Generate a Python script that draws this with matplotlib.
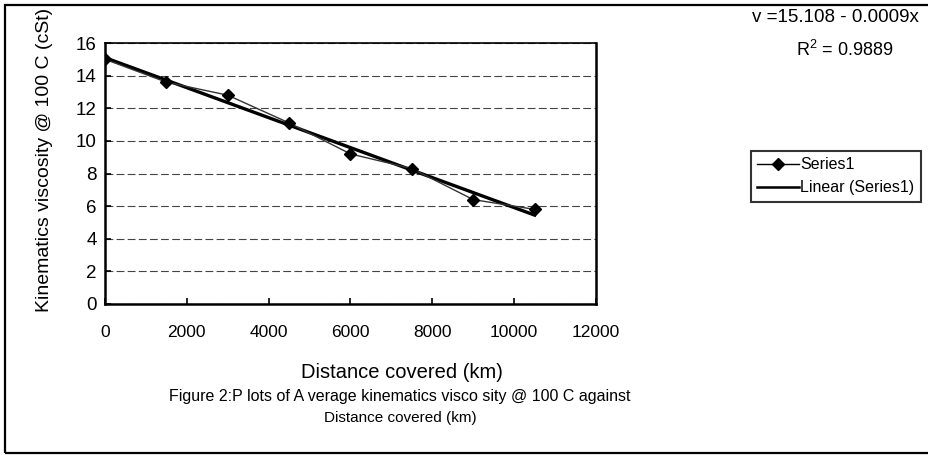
import numpy as np
import matplotlib
matplotlib.use('Agg')
import matplotlib.pyplot as plt
from matplotlib.patches import Rectangle
from matplotlib.lines import Line2D

#Data
distanceKm = [0, 1500, 3000, 4500, 6000, 7500, 9000, 10500]
viscosity = [15.0, 13.6, 12.8, 11.1, 9.2, 8.3, 6.4, 5.8]
xTicks = [0, 2000, 4000, 6000, 8000, 10000, 12000]
yTicks = [0, 2, 4, 6, 8, 10, 12, 14, 16]
equationText = 'v =15.108 - 0.0009x'
rSquaredText = 'R$^2$ = 0.9889'

plt.rcParams['font.family'] = ['Liberation Sans', 'DejaVu Sans']
plt.rcParams['mathtext.fontset'] = 'custom'
plt.rcParams['mathtext.rm'] = 'Liberation Sans'

fig = plt.figure(figsize=(9.29, 4.58), dpi=100)
ax = fig.add_axes([105/929, 1-304/458, 491/929, 261/458])

#Linear trendline fitted from the points
slope, intercept = np.polyfit(distanceKm, viscosity, 1)
trendX = np.array([distanceKm[0], distanceKm[-1]])
ax.plot(trendX, intercept + slope*trendX, color='black', lw=2.4, zorder=3)

#Series with diamond markers
ax.plot(distanceKm, viscosity, color='#333333', lw=1.0, marker='D',
        markersize=6, markerfacecolor='black', markeredgecolor='black', zorder=4)

#Axes limits, ticks and gridlines
ax.set_xlim(0, 12000)
ax.set_ylim(0, 16)
ax.set_xticks(xTicks)
ax.set_yticks(yTicks)
ax.set_xticklabels([str(t) for t in xTicks], fontsize=12.5)
ax.set_yticklabels([str(t) for t in yTicks], fontsize=13.5)
ax.tick_params(axis='both', direction='in', length=4, width=1.2)
ax.tick_params(axis='x', pad=15)
ax.tick_params(axis='y', pad=6)
ax.yaxis.grid(True, linestyle=(0, (7, 3)), color='#444444', lw=0.8)
ax.set_axisbelow(True)
for side in ['left', 'bottom', 'right']:
    ax.spines[side].set_linewidth(1.8)
ax.spines['top'].set_linewidth(1.2)

#Axis labels
fig.text(45/929, 1-160/458, 'Kinematics viscosity @ 100 C (cSt)', fontsize=14,
         rotation=90, ha='center', va='center')
fig.text(402/929, 1-372/458, 'Distance covered (km)', fontsize=14.5,
         ha='center', va='center')

#Caption under the chart
fig.text(400/929, 1-396/458,
         'Figure 2:P lots of A verage kinematics visco sity @ 100 C against',
         fontsize=11.5, ha='center', va='center')
fig.text(400/929, 1-418/458, 'Distance covered (km)', fontsize=11,
         ha='center', va='center')

#Trendline equation
fig.text(752/929, 1-18/458, equationText, fontsize=13.5, ha='left', va='center')
fig.text(845/929, 1-50/458, rSquaredText, fontsize=13, ha='center', va='center')

#Legend box
legendHandles = [
    Line2D([], [], color='black', lw=1.0, marker='D', markersize=6),
    Line2D([], [], color='black', lw=1.8),
]
leg = fig.legend(legendHandles, ['Series1', 'Linear (Series1)'],
                 loc='upper left', bbox_to_anchor=(743/929, 1-143/458),
                 frameon=True, fancybox=False, handlelength=2.6,
                 handletextpad=0.1, borderpad=0.4, labelspacing=0.5,
                 prop={'size': 11.5})
leg.get_frame().set_edgecolor('black')
leg.get_frame().set_linewidth(1.5)

#Outer border of the figure
fig.patches.append(Rectangle((5/929, 5/458), 1.0, 448/458, transform=fig.transFigure,
                             fill=False, edgecolor='black', lw=1.6))

plt.savefig('out.png', dpi=100)
plt.close()
